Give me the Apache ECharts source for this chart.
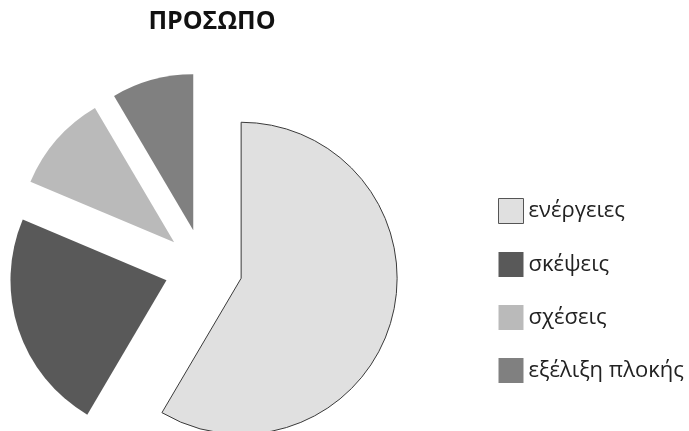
<!DOCTYPE html>
<html>
<head>
	<meta charset="UTF-8">
	<title>ΠΡΟΣΩΠΟ</title>
	<script type="text/javascript" src="https://cdn.jsdelivr.net/npm/echarts@6/dist/echarts.min.js"></script>
	<style type="text/css">
		html, body {
			margin: 0;
			padding: 0;
			background: #ffffff;
		}
		#graph {
			width: 689px;
			height: 431px;
		}
	</style>
</head>
<body>
	<div id="graph"></div>
	<script>
		// δεδομένα
		var categories = ["ενέργειες", "σκέψεις", "σχέσεις", "εξέλιξη πλοκής"];
		var values = [69, 27, 12, 10];
		var colors = ["#e0e0e0", "#595959", "#bababa", "#808080"];

		var data = [];
		for (var i = 0; i < categories.length; i++) {
			var item = {
				name: categories[i],
				value: values[i],
				selected: true,
				itemStyle: { color: colors[i] }
			};
			if (i == 0) {
				item.itemStyle.borderColor = "#3a3a3a";
				item.itemStyle.borderWidth = 1;
			}
			data.push(item);
		}

		var legendData = categories.map(function (c, i) {
			if (i == 0) {
				return { name: c, itemStyle: { borderColor: '#555555', borderWidth: 1 } };
			}
			return { name: c };
		});

		var chart = echarts.init(document.getElementById('graph'), null, { renderer: 'canvas' });
		chart.setOption({
			animation: false,
			title: {
				text: "ΠΡΟΣΩΠΟ",
				left: 207,
				top: 4,
				textAlign: 'center',
				textStyle: {
					fontFamily: "Open Sans",
					fontWeight: 'bold',
					fontSize: 25,
					color: '#111111'
				}
			},
			legend: {
				orient: 'vertical',
				left: 498,
				top: 198,
				padding: 0,
				icon: 'rect',
				itemWidth: 25,
				itemHeight: 25,
				itemGap: 28,
				data: legendData,
				textStyle: {
					fontFamily: "Open Sans",
					fontSize: 22,
					color: '#222222'
				}
			},
			series: [{
				type: 'pie',
				center: [203.5, 268],
				radius: 156,
				startAngle: 90,
				clockwise: true,
				selectedMode: 'multiple',
				selectedOffset: 39,
				label: { show: false },
				labelLine: { show: false },
				emphasis: { disabled: true },
				data: data
			}]
		});
	</script>
</body>
</html>
